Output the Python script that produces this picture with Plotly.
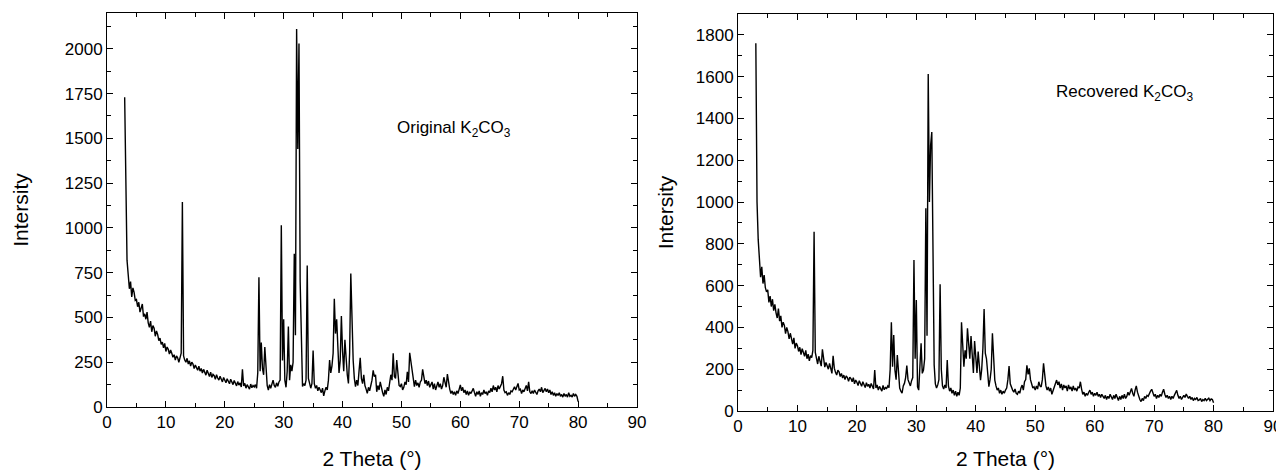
import numpy as np
import plotly.graph_objects as go

# 2-theta sampling grid used for both scans (3.0 .. 80.0 deg, 0.2 deg steps)
two_theta = np.round(np.arange(3.0, 80.0001, 0.2), 1)

# Original K2CO3 intensities, one row = 2 degrees
original_intensity = [
    1730, 1100, 820, 740, 660, 700, 615, 665, 640, 595,   # 3.0
    600, 560, 585, 530, 548, 575, 505, 520, 490, 530,     # 5.0
    470, 445, 480, 420, 455, 440, 395, 425, 405, 370,     # 7.0
    385, 350, 362, 330, 355, 310, 335, 322, 295, 318,     # 9.0
    300, 278, 292, 262, 285, 275, 250, 282, 300, 1145,    # 11.0
    285, 262, 250, 272, 240, 258, 228, 250, 240, 215,     # 13.0
    235, 220, 205, 228, 200, 215, 190, 210, 198, 178,     # 15.0
    205, 185, 170, 195, 165, 182, 175, 155, 180, 162,     # 17.0
    150, 172, 160, 140, 165, 148, 135, 158, 142, 130,     # 19.0
    155, 135, 125, 148, 130, 118, 142, 122, 135, 112,     # 21.0
    210, 118, 132, 105, 125, 115, 100, 128, 108, 120,     # 23.0
    112, 125, 105, 190, 725, 200, 360, 215, 180, 335,     # 25.0
    200, 120, 95, 125, 105, 130, 150, 120, 110, 135,      # 27.0
    115, 140, 150, 1015, 260, 490, 150, 110, 200, 450,    # 29.0
    150, 235, 200, 250, 855, 400, 2110, 1440, 2030, 700,  # 31.0
    300, 115, 130, 120, 150, 790, 160, 120, 105, 130,     # 33.0
    315, 130, 105, 120, 90, 110, 95, 80, 105, 62,         # 35.0
    90, 110, 95, 150, 262, 190, 230, 300, 605, 410,       # 37.0
    490, 300, 190, 260, 508, 310, 200, 375, 260, 180,     # 39.0
    132, 300, 745, 490, 262, 160, 114, 150, 120, 200,     # 41.0
    275, 160, 130, 180, 120, 100, 76, 110, 90, 120,       # 43.0
    150, 205, 170, 180, 85, 120, 95, 140, 100, 80,        # 45.0
    60, 95, 70, 110, 90, 140, 180, 150, 300, 170,         # 47.0
    160, 262, 180, 120, 114, 130, 95, 110, 140, 125,      # 49.0
    197, 140, 303, 250, 190, 140, 114, 150, 120, 135,     # 51.0
    110, 140, 150, 210, 160, 130, 150, 120, 145, 110,     # 53.0
    125, 140, 100, 130, 95, 120, 140, 110, 130, 100,      # 55.0
    120, 166, 130, 110, 184, 130, 100, 75, 90, 70,        # 57.0
    85, 65, 90, 75, 100, 123, 90, 110, 80, 95,            # 59.0
    70, 90, 65, 85, 75, 95, 104, 80, 60, 85,              # 61.0
    70, 90, 60, 80, 70, 95, 75, 85, 65, 90,               # 63.0
    80, 105, 85, 120, 95, 110, 85, 120, 100, 115,         # 65.0
    130, 172, 95, 80, 85, 65, 80, 70, 90, 85,             # 67.0
    100, 113, 95, 120, 132, 95, 100, 75, 95, 85,          # 69.0
    110, 120, 90, 141, 85, 75, 90, 75, 95, 80,            # 71.0
    70, 90, 100, 85, 110, 80, 95, 104, 85, 100,           # 73.0
    80, 95, 70, 85, 65, 80, 60, 75, 65, 80,               # 75.0
    60, 70, 55, 75, 60, 70, 55, 80, 60, 65,               # 77.0
    55, 75, 60, 70, 60, 30,                               # 79.0
]

# Recovered K2CO3 intensities, same grid
recovered_intensity = [
    1760, 1000, 820, 720, 640, 690, 610, 650, 590, 570,   # 3.0
    580, 520, 550, 500, 535, 480, 510, 470, 445, 490,     # 5.0
    430, 455, 400, 425, 410, 370, 400, 380, 345, 372,     # 7.0
    340, 320, 350, 300, 325, 312, 285, 305, 270, 298,     # 9.0
    280, 262, 290, 250, 272, 240, 265, 255, 290, 858,     # 11.0
    280, 245, 225, 262, 230, 215, 295, 240, 210, 232,     # 13.0
    212, 200, 228, 195, 180, 264, 205, 185, 172, 195,     # 15.0
    188, 165, 180, 158, 172, 150, 168, 160, 142, 162,     # 17.0
    155, 140, 160, 130, 148, 138, 122, 145, 128, 118,     # 19.0
    140, 125, 112, 135, 118, 128, 110, 132, 115, 105,     # 21.0
    196, 110, 125, 100, 118, 108, 95, 122, 102, 112,      # 23.0
    108, 120, 112, 200, 425, 212, 364, 196, 150, 268,     # 25.0
    180, 110, 95, 85, 120, 132, 160, 218, 150, 132,       # 27.0
    120, 145, 160, 723, 250, 531, 116, 100, 200, 324,     # 29.0
    180, 196, 250, 970, 360, 1613, 1000, 1270, 1335, 560, # 31.0
    220, 130, 110, 125, 150, 606, 200, 120, 105, 125,     # 33.0
    110, 244, 120, 95, 110, 85, 100, 75, 95, 70,          # 35.0
    90, 75, 110, 425, 300, 212, 290, 250, 396, 325,       # 37.0
    250, 359, 250, 182, 335, 240, 182, 284, 220, 148,     # 39.0
    200, 300, 488, 277, 250, 180, 116, 150, 200, 372,     # 41.0
    250, 148, 120, 100, 110, 85, 100, 80, 95, 85,         # 43.0
    100, 110, 150, 215, 130, 110, 100, 90, 105, 85,       # 45.0
    80, 95, 85, 110, 124, 100, 140, 150, 219, 175,        # 47.0
    204, 150, 130, 110, 116, 100, 120, 105, 140, 120,     # 49.0
    115, 150, 228, 160, 120, 100, 115, 95, 110, 80,       # 51.0
    100, 120, 135, 148, 125, 140, 110, 130, 100, 125,     # 53.0
    110, 120, 95, 125, 105, 115, 95, 120, 100, 110,       # 55.0
    95, 115, 110, 140, 105, 80, 90, 70, 85, 75,           # 57.0
    90, 100, 80, 90, 70, 85, 75, 90, 70, 80,              # 59.0
    65, 80, 70, 60, 75, 55, 70, 60, 80, 65,               # 61.0
    55, 75, 60, 80, 65, 50, 70, 55, 75, 60,               # 63.0
    80, 60, 70, 90, 75, 95, 108, 85, 70, 100,             # 65.0
    120, 90, 70, 55, 45, 60, 50, 70, 60, 75,              # 67.0
    70, 85, 95, 104, 85, 70, 80, 60, 75, 65,              # 69.0
    80, 70, 90, 104, 80, 65, 75, 60, 70, 55,              # 71.0
    70, 60, 75, 85, 99, 75, 60, 70, 55, 65,               # 73.0
    75, 65, 81, 70, 60, 70, 55, 65, 50, 60,               # 75.0
    55, 65, 50, 53, 60, 45, 55, 50, 60, 50,               # 77.0
    55, 61, 50, 58, 55, 40,                               # 79.0
]

assert len(original_intensity) == len(two_theta)
assert len(recovered_intensity) == len(two_theta)

FONT = "Liberation Sans, Arial, sans-serif"
W, H = 1284, 473
PAD = 8  # page body margin the browser adds around the plot div


def _dom_x(left_px, right_px):
    return [(left_px - PAD) / W, (right_px - PAD) / W]


def _dom_y(top_px, bottom_px):
    return [1 - (bottom_px - PAD) / H, 1 - (top_px - PAD) / H]


def _axis_style(**extra):
    style = dict(
        showline=True, linecolor="black", linewidth=1, mirror="ticks",
        ticks="inside", ticklen=6, tickcolor="black", tickwidth=1,
        showgrid=False, zeroline=False, automargin=False,
        tickfont=dict(family=FONT, size=17, color="black"),
        title_font=dict(family=FONT, size=21, color="black"),
    )
    style.update(extra)
    return style


fig = go.Figure()
fig.add_trace(go.Scatter(x=two_theta, y=original_intensity, mode="lines",
                         line=dict(color="black", width=1.4), xaxis="x", yaxis="y",
                         showlegend=False))
fig.add_trace(go.Scatter(x=two_theta, y=recovered_intensity, mode="lines",
                         line=dict(color="black", width=1.4), xaxis="x2", yaxis="y2",
                         showlegend=False))

minor_x = dict(dtick=5, ticks="inside", ticklen=4, tickcolor="black", showgrid=False)

fig.update_layout(
    width=W, height=H,
    margin=dict(l=0, r=0, t=0, b=0),
    paper_bgcolor="white", plot_bgcolor="white",
    xaxis=_axis_style(domain=_dom_x(107, 637), range=[0, 90], dtick=10, minor=minor_x,
                      title=dict(text="2 Theta (°)", standoff=19), anchor="y"),
    yaxis=_axis_style(domain=_dom_y(13, 407), range=[0, 2200], dtick=250,
                      minor=dict(dtick=125, ticks="inside", ticklen=4, tickcolor="black"),
                      title=dict(text="Intersity", standoff=30), anchor="x"),
    xaxis2=_axis_style(domain=_dom_x(738, 1273), range=[0, 90], dtick=10, minor=minor_x,
                       title=dict(text="2 Theta (°)", standoff=15), anchor="y2"),
    yaxis2=_axis_style(domain=_dom_y(14, 411), range=[0, 1900], dtick=200,
                       minor=dict(dtick=100, ticks="inside", ticklen=4, tickcolor="black"),
                       title=dict(text="Intersity", standoff=16), anchor="x2"),
)

fig.add_annotation(text="Original K<sub>2</sub>CO<sub>3</sub>", xref="x", yref="y",
                   x=59, y=1550, showarrow=False,
                   font=dict(family=FONT, size=17, color="black"))
fig.add_annotation(text="Recovered K<sub>2</sub>CO<sub>3</sub>", xref="x2", yref="y2",
                   x=65, y=1520, showarrow=False,
                   font=dict(family=FONT, size=17, color="black"))

fig.write_html("out.html")
